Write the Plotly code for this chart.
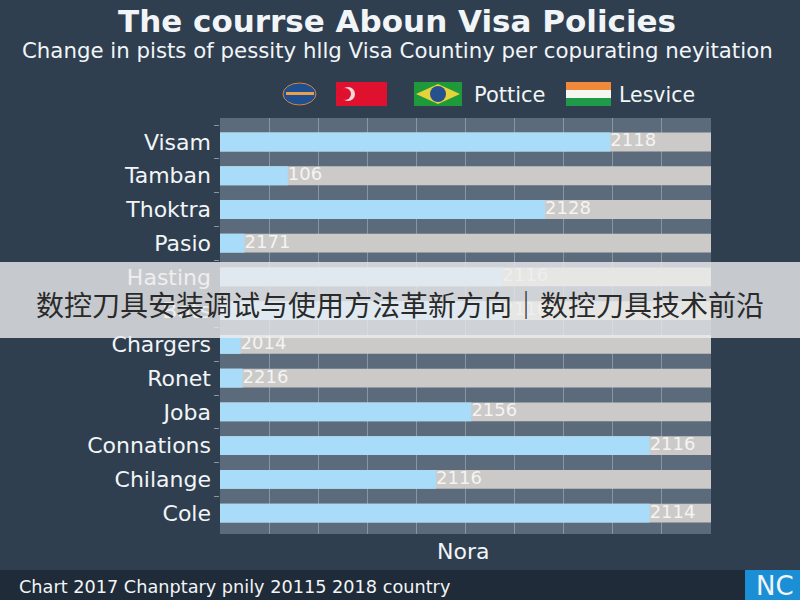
import plotly.graph_objects as go

# Country rows, top to bottom, with the share reached and the printed label
categories = ["Visam", "Tamban", "Thoktra", "Pasio", "Hasting", "Bats",
              "Chargers", "Ronet", "Joba", "Connations", "Chilange", "Cole"]
values = [79.5, 13.8, 66.2, 5.0, 57.5, 57.5, 4.2, 4.6, 51.2, 87.5, 44.0, 87.5]
bar_labels = ["2118", "106", "2128", "2171", "2116", "2116",
              "2014", "2216", "2156", "2116", "2116", "2114"]
track_total = [100] * len(categories)

TITLE = "The courrse Aboun Visa Policies"
SUBTITLE = "Change in pists of pessity hllg Visa Countiny per copurating neyitation"
X_TITLE = "Nora"
FOOTER = "Chart 2017 Chanptary pnily 20115 2018 country"
BANNER = "数控刀具安装调试与使用方法革新方向｜数控刀具技术前沿"

W, H = 800, 600
px = lambda v: v / W
py = lambda v: 1 - v / H


def rect(x0, y0, x1, y1, color, **kw):
    return dict(type="rect", xref="paper", yref="paper", x0=px(x0), x1=px(x1),
                y0=py(y1), y1=py(y0), fillcolor=color, line_width=0, layer="above", **kw)


def circle(x0, y0, x1, y1, color, line=None):
    return dict(type="circle", xref="paper", yref="paper", x0=px(x0), x1=px(x1),
                y0=py(y1), y1=py(y0), fillcolor=color, layer="above",
                line=line or dict(width=0))


def label(x, y, text, size, color="#f2f5f7", family="DejaVu Sans", anchor="center", **kw):
    return dict(xref="paper", yref="paper", x=px(x), y=py(y), text=text, showarrow=False,
                xanchor=anchor, yanchor="middle",
                font=dict(size=size, color=color, family=family), **kw)


fig = go.Figure()
fig.add_bar(y=categories, x=track_total, orientation="h", width=0.56,
            marker=dict(color="#cbcac8", line_width=0), showlegend=False)
fig.add_bar(y=categories, x=values, orientation="h", width=0.56,
            marker=dict(color="#a8dcf8", line_width=0), showlegend=False)
fig.add_scatter(y=categories, x=values, mode="text", text=bar_labels,
                textposition="middle right", showlegend=False,
                textfont=dict(size=18, color="#f4f4f2", family="DejaVu Sans"))

shapes = [
    # Footer strip and corner badge
    rect(0, 570, 800, 600, "#1f2b38"),
    rect(745, 570, 800, 600, "#1b8fd6"),
    # Legend swatch: globe
    circle(283, 83, 316, 105, "#1f4f8f", dict(color="#d9823a", width=1)),
    rect(286, 92, 314, 95, "#e8a04a"),
    # Legend swatch: red flag with crescent
    rect(336, 82, 387, 106, "#e0102f"),
    circle(341, 87, 355, 101, "#f6d9d9"),
    circle(339, 88, 351, 100, "#e0102f"),
    # Legend swatch: green flag with emblem
    rect(414, 82, 462, 106, "#1f9a3a"),
    dict(type="path", xref="paper", yref="paper", layer="above", line_width=0, fillcolor="#e6d23a",
         path=f"M {px(416)} {py(94)} L {px(438)} {py(84)} L {px(460)} {py(94)} L {px(438)} {py(104)} Z"),
    circle(430, 86, 446, 102, "#27508f"),
    # Legend swatch: tricolour
    rect(566, 82, 611, 90, "#f08a3a"),
    rect(566, 90, 611, 98, "#f7f7f2"),
    rect(566, 98, 611, 106, "#1f9a4a"),
    # Translucent banner across the chart
    rect(0, 262, 800, 338, "rgba(236,236,236,0.8)"),
]

annotations = [
    label(397, 21, f"<b>{TITLE}</b>", 31),
    label(397, 51, SUBTITLE, 21.3),
    label(510, 95, "Pottice", 21),
    label(657, 95, "Lesvice", 20.5),
    label(463, 551, X_TITLE, 22),
    label(17, 587, FOOTER, 17.7, anchor="left"),
    label(754, 586, "NC", 26, anchor="left"),
    label(400, 304, BANNER, 28, color="#2a2a2a", family="Noto Sans CJK SC"),
]

fig.update_layout(
    width=W, height=H,
    margin=dict(l=0, r=0, t=0, b=0),
    autosize=False,
    paper_bgcolor="#2f3f50",
    plot_bgcolor="#5c6b7c",
    barmode="overlay",
    bargap=0.44,
    shapes=shapes,
    annotations=annotations,
    xaxis=dict(domain=[px(220), px(711)], range=[0, 100], tick0=0, dtick=10,
               showticklabels=False, ticks="", showgrid=True,
               gridcolor="#8896a4", gridwidth=1, zeroline=False),
    yaxis=dict(domain=[py(534), py(118)], type="category",
               categoryorder="array", categoryarray=categories,
               range=[11.62, -0.71],
               tickson="boundaries", ticks="outside", ticklen=5, tickcolor="#8896a4",
               tickfont=dict(size=22, color="#f2f5f7", family="DejaVu Sans"),
               showgrid=False, zeroline=False, ticklabelstandoff=8),
)

fig.write_html("out.html")
